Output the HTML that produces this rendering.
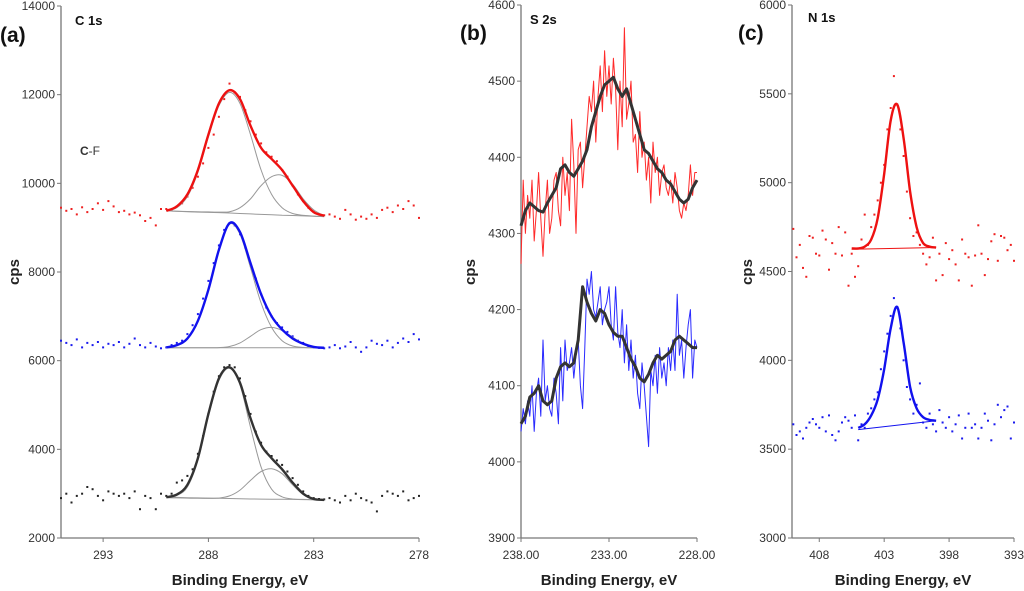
<!DOCTYPE html>
<html><head><meta charset="utf-8"><style>
html,body{margin:0;padding:0;background:#fff;}
svg{display:block;font-family:"Liberation Sans",Arial,sans-serif;}
.tk{font-size:12px;fill:#333;}
.ti{font-size:15px;font-weight:bold;fill:#222;}
.pl{font-size:21px;font-weight:bold;fill:#111;}
.nm{font-size:13px;font-weight:bold;fill:#111;}
</style></head><body>
<svg id="fig" width="1024" height="591" viewBox="0 0 1024 591"></svg>
<script>
// ---------- Panel (a) C 1s data ----------
const aScatterStart = 295, aScatterStep = 0.25;
const aRedPts = [9450,9380,9420,9300,9460,9350,9420,9550,9400,9600,9480,9350,9380,9300,9340,9280,9150,9220,9050,9420,
9420,9400,9480,9550,9700,9900,10150,10450,10800,11100,11500,11900,12250,12050,11950,11650,11400,11100,10900,10700,10600,10500,10300,10150,9950,9750,9600,9450,9350,9300,9280,
9300,9250,9200,9400,9300,9180,9250,9200,9300,9220,9400,9450,9350,9500,9420,9600,9500,9220];
const aBluePts = [6450,6400,6350,6480,6300,6400,6350,6420,6300,6380,6350,6420,6300,6380,6500,6350,6300,6400,6320,6280,
6300,6350,6400,6450,6600,6800,7050,7400,7800,8200,8600,8950,9100,9050,8850,8550,8200,7850,7500,7200,7000,6850,6750,6650,6550,6450,6400,6330,6300,6290,6280,
6300,6350,6280,6320,6420,6300,6200,6300,6450,6380,6350,6450,6300,6400,6500,6420,6600,6480];
const aBlackPts = [2900,3000,2800,2950,3000,3150,3100,2950,2850,3050,3000,2950,3000,2900,3050,2650,2950,2900,2650,3000,
2950,3000,3250,3300,3400,3550,3900,4300,4800,5300,5650,5850,5900,5850,5600,5200,4800,4400,4150,3950,3850,3750,3650,3500,3350,3200,3050,2950,2900,2880,2870,
2900,2850,2800,2950,2850,3000,2900,2850,2800,2600,2950,3050,3000,2950,3050,2850,2900,2950];
const aFitE = [290,289.5,289,288.5,288,287.5,287,286.5,286,285.5,285,284.5,284,283.5,283,282.5];
const aRedTotal = [9380,9480,9750,10300,11100,11800,12100,11900,11300,10800,10550,10300,9950,9600,9350,9270];
const aRedC1 = [9380,9450,9700,10250,11050,11750,12050,11800,11100,10300,9750,9450,9320,9280,9260,9250];
const aRedC2 = [9380,9370,9365,9360,9355,9350,9360,9450,9650,9950,10150,10180,9980,9650,9400,9270];
const aRedBase = [9380,9370,9360,9350,9345,9340,9330,9320,9310,9300,9290,9280,9275,9265,9258,9250];
const aBlueTotal = [6300,6350,6500,6900,7600,8500,9100,8900,8200,7500,7000,6700,6500,6380,6310,6290];
const aBlueC1 = [6300,6340,6480,6880,7580,8480,9080,8850,8100,7300,6750,6450,6330,6300,6290,6285];
const aBlueC2 = [6290,6290,6290,6290,6290,6295,6320,6400,6550,6700,6750,6680,6530,6380,6300,6285];
const aBlueBase = [6290,6290,6290,6290,6290,6290,6290,6290,6290,6290,6290,6290,6290,6290,6290,6290];
const aBlackTotal = [2920,2980,3200,3800,4800,5600,5850,5500,4700,4100,3800,3550,3250,3000,2880,2860];
const aBlackC1 = [2920,2960,3150,3750,4750,5550,5830,5450,4500,3600,3100,2930,2880,2870,2865,2860];
const aBlackC2 = [2910,2905,2900,2895,2895,2900,2950,3080,3300,3500,3560,3450,3200,2980,2880,2860];
const aBlackBase = [2920,2915,2910,2905,2900,2895,2890,2885,2880,2878,2875,2872,2870,2866,2863,2860];
const aXTicks = [293,288,283,278];
const aYTicks = [2000,4000,6000,8000,10000,12000,14000];

// ---------- Panel (b) S 2s data ----------
const bRawStart = 238, bRawStep = 0.125, bSmStep = 0.25;
const bRedRaw = [4260,4370,4300,4350,4320,4370,4290,4330,4380,4320,4270,4330,4370,4300,4320,4370,4380,4330,4310,4400,
4350,4380,4330,4450,4390,4300,4410,4420,4360,4400,4440,4480,4460,4500,4420,4480,4520,4460,4540,4480,
4520,4470,4530,4490,4410,4500,4440,4570,4450,4470,4500,4420,4430,4380,4460,4400,4420,4370,4400,4340,
4420,4380,4400,4350,4380,4390,4360,4350,4370,4340,4380,4360,4330,4320,4340,4330,4350,4390,4350,4380,4380];
const bRedSmooth = [4310,4330,4340,4335,4330,4328,4340,4350,4360,4385,4390,4380,4375,4385,4395,4410,4440,4460,4480,4495,4500,4505,4490,4480,4490,4470,4450,4430,4410,4405,4395,4385,4380,4370,4365,4355,4345,4340,4345,4360,4370];
const bBlueRaw = [4040,4070,4050,4080,4060,4100,4040,4090,4110,4060,4160,4080,4100,4070,4060,4110,4090,4050,4150,4080,
4160,4120,4130,4150,4110,4140,4160,4100,4070,4150,4240,4220,4250,4200,4190,4210,4230,4180,4200,4210,
4230,4180,4160,4230,4170,4150,4200,4130,4180,4120,4160,4110,4140,4090,4070,4130,4100,4060,4020,4120,
4100,4140,4090,4150,4110,4130,4100,4150,4120,4160,4120,4220,4140,4160,4110,4150,4180,4200,4110,4160,4150];
const bBlueSmooth = [4050,4060,4085,4090,4100,4080,4075,4080,4110,4125,4130,4125,4130,4160,4230,4210,4195,4185,4200,4195,4180,4170,4165,4165,4150,4135,4125,4110,4105,4115,4130,4140,4135,4140,4145,4160,4165,4160,4155,4150,4150];
const bXTicks = [238,233,228];
const bYTicks = [3900,4000,4100,4200,4300,4400,4500,4600];

// ---------- Panel (c) N 1s data ----------
const cScatterStart = 410, cScatterStep = 0.25;
const cRedPts = [4740,4580,4650,4520,4470,4700,4690,4600,4590,4730,4680,4510,4660,4600,4750,4590,
4720,4420,4600,4470,4530,4680,4820,4650,
4750,4820,4900,5000,5100,5300,5420,5600,5440,5300,5150,4950,4800,4700,4720,4650,4600,
4540,4580,4690,4450,4600,4480,4660,4570,4620,4540,4450,4680,4600,4580,4420,4590,4760,4600,4480,4570,4670,4710,4560,4700,4690,4620,4650,4560];
const cBluePts = [3640,3580,3600,3560,3620,3650,3670,3640,3620,3680,3600,3690,3580,3550,3600,3650,
3680,3660,3620,3690,3550,3640,3620,3700,
3730,3780,3820,3950,4050,4150,4250,4350,4300,4180,4000,3850,3780,3700,3750,3870,3650,
3620,3700,3640,3600,3720,3650,3620,3680,3600,3640,3690,3560,3620,3700,3620,3640,3560,3620,3700,3660,3550,3640,3750,3680,3720,3740,3560,3650];
const cRedFitE = [405.5,405,404.5,404,403.5,403,402.5,402,401.5,401,400.5,400,399.5,399];
const cRedFit = [4630,4630,4640,4680,4800,5050,5350,5440,5250,4950,4750,4660,4640,4635];
const cRedBaseE = [405.5,399];
const cRedBase = [4625,4635];
const cBlueFitE = [405,404.5,404,403.5,403,402.5,402,401.5,401,400.5,400,399.5,399];
const cBlueFit = [3620,3640,3690,3780,3950,4180,4300,4100,3850,3730,3680,3665,3660];
const cBlueBaseE = [405,399];
const cBlueBase = [3610,3660];
const cXTicks = [408,403,398,393];
const cYTicks = [3000,3500,4000,4500,5000,5500,6000];

// ---------- drawing ----------
const NS = "http://www.w3.org/2000/svg";
const svg = document.getElementById('fig');
function mk(tag, attrs, parent){
  const e = document.createElementNS(NS, tag);
  for (const k in attrs) e.setAttribute(k, attrs[k]);
  (parent||svg).appendChild(e);
  return e;
}
function scale(d0,d1,r0,r1){ return v => r0 + (v-d0)*(r1-r0)/(d1-d0); }
function smoothPath(pts){
  if (pts.length<2) return '';
  let d = 'M'+pts[0][0].toFixed(1)+','+pts[0][1].toFixed(1);
  for (let i=0;i<pts.length-1;i++){
    const p0=pts[Math.max(0,i-1)], p1=pts[i], p2=pts[i+1], p3=pts[Math.min(pts.length-1,i+2)];
    const c1x=p1[0]+(p2[0]-p0[0])/6, c1y=p1[1]+(p2[1]-p0[1])/6;
    const c2x=p2[0]-(p3[0]-p1[0])/6, c2y=p2[1]-(p3[1]-p1[1])/6;
    d+=' C'+c1x.toFixed(1)+','+c1y.toFixed(1)+' '+c2x.toFixed(1)+','+c2y.toFixed(1)+' '+p2[0].toFixed(1)+','+p2[1].toFixed(1);
  }
  return d;
}
function axes(g, x, y, x0, x1, y0, y1, xt, yt, fmt, name){
  const ax = mk('g', {}, g);
  
  
  const yl = mk('line', {x1:x(x0), y1:y(y0), x2:x(x0), y2:y(y1), stroke:'#777', 'stroke-width':1.3}, ax);
  
  
  const xl = mk('line', {x1:x(x0), y1:y(y0), x2:x(x1), y2:y(y0), stroke:'#777', 'stroke-width':1.3}, ax);
  
  
  xt.forEach(v=>{
    mk('line', {x1:x(v), y1:y(y0), x2:x(v), y2:y(y0)+4, stroke:'#777'}, ax);
    const t = mk('text', {x:x(v), y:y(y0)+21, 'text-anchor':'middle', class:'tk'}, ax);
    t.textContent = fmt(v);
    
    
  });
  yt.forEach(v=>{
    mk('line', {x1:x(x0)-4, y1:y(v), x2:x(x0), y2:y(v), stroke:'#777'}, ax);
    const t = mk('text', {x:x(x0)-6, y:y(v)+4, 'text-anchor':'end', class:'tk'}, ax);
    t.textContent = v;
    
    
  });
}
function scatter(g, x, y, start, step, vals, color, name){
  const s = mk('g', {fill:color}, g);
  
  
  vals.forEach((v,i)=>{
    const e = start - i*step;
    const r = mk('rect', {x:(x(e)-1).toFixed(1), y:(y(v)-1).toFixed(1), width:2, height:2}, s);
    
    
  });
}
function curve(g, x, y, es, vals, color, w, name, smooth){
  const pts = vals.map((v,i)=>[x(es[i]), y(v)]);
  const d = smooth ? smoothPath(pts) : 'M'+pts.map(p=>p[0].toFixed(1)+','+p[1].toFixed(1)).join(' L');
  const p = mk('path', {d:d, fill:'none', stroke:color, 'stroke-width':w, 'stroke-linejoin':'round'}, g);
  
  
}
function seq(start, step, n){ const r=[]; for(let i=0;i<n;i++) r.push(start-i*step); return r; }
function label(txt, x, y, cls, name, rot){
  const t = mk('text', {x:x, y:y, class:cls, 'text-anchor': rot||cls==='ti'?'middle':'start'});
  if (rot) t.setAttribute('transform', 'rotate(-90 '+x+' '+y+')');
  t.textContent = txt;
  
  
  return t;
}

// Panel a
(function(){
  const g = mk('g', {});
  
  
  const x = scale(295, 278, 61, 419), y = scale(2000, 14000, 538, 6);
  axes(g, x, y, 295, 278, 2000, 14000, aXTicks, aYTicks, v=>String(v), 'panel-a');
  [[aRedPts,'#ee2020','red'],[aBluePts,'#1a1aee','blue'],[aBlackPts,'#222','black']].forEach(s=>scatter(g,x,y,aScatterStart,aScatterStep,s[0],s[1],'c1s-'+s[2]+'-points'));
  [[aRedC1,aRedC2,aRedBase,aRedTotal,'#ee1111','red'],[aBlueC1,aBlueC2,aBlueBase,aBlueTotal,'#1111ee','blue'],[aBlackC1,aBlackC2,aBlackBase,aBlackTotal,'#333','black']].forEach(s=>{
    curve(g,x,y,aFitE,s[0],'#999',1,'c1s-'+s[5]+'-component-1',true);
    curve(g,x,y,aFitE,s[1],'#999',1,'c1s-'+s[5]+'-component-2',true);
    curve(g,x,y,aFitE,s[2],'#999',1,'c1s-'+s[5]+'-baseline',false);
    curve(g,x,y,aFitE,s[3],s[4],2.4,'c1s-'+s[5]+'-envelope',true);
  });
  label('(a)', 0, 42, 'pl', 'panel-a-label');
  label('C 1s', 75, 25, 'nm', 'panel-a-title');
  const cf = label('', 80, 155, 'tk', 'c-f-annotation');
  cf.innerHTML = '<tspan font-weight="bold">C</tspan>-F';
  label('cps', 19, 272, 'ti', 'panel-a-y-title', true);
  label('Binding Energy, eV', 240, 585, 'ti', 'panel-a-x-title');
})();

// Panel b
(function(){
  const g = mk('g', {});
  
  
  const x = scale(238, 228, 521, 697), y = scale(3900, 4600, 538, 5);
  axes(g, x, y, 238, 228, 3900, 4600, bXTicks, bYTicks, v=>v.toFixed(2), 'panel-b');
  curve(g,x,y,seq(bRawStart,bRawStep,bRedRaw.length),bRedRaw,'#ff2a2a',1,'s2s-red-raw',false);
  curve(g,x,y,seq(bRawStart,bRawStep,bBlueRaw.length),bBlueRaw,'#2a2aff',1,'s2s-blue-raw',false);
  curve(g,x,y,seq(bRawStart,bSmStep,bRedSmooth.length),bRedSmooth,'#333',3,'s2s-red-smoothed',false);
  curve(g,x,y,seq(bRawStart,bSmStep,bBlueSmooth.length),bBlueSmooth,'#333',3,'s2s-blue-smoothed',false);
  label('(b)', 460, 40, 'pl', 'panel-b-label');
  label('S 2s', 530, 24, 'nm', 'panel-b-title');
  label('cps', 475, 272, 'ti', 'panel-b-y-title', true);
  label('Binding Energy, eV', 609, 585, 'ti', 'panel-b-x-title');
})();

// Panel c
(function(){
  const g = mk('g', {});
  
  
  const x = scale(410.1, 393, 792, 1014), y = scale(3000, 6000, 538, 5);
  axes(g, x, y, 410.1, 393, 3000, 6000, cXTicks, cYTicks, v=>String(v), 'panel-c');
  scatter(g,x,y,cScatterStart,cScatterStep,cRedPts,'#ee2020','n1s-red-points');
  scatter(g,x,y,cScatterStart,cScatterStep,cBluePts,'#1a1aee','n1s-blue-points');
  curve(g,x,y,cRedBaseE,cRedBase,'#ee1111',1,'n1s-red-baseline',false);
  curve(g,x,y,cBlueBaseE,cBlueBase,'#1111ee',1,'n1s-blue-baseline',false);
  curve(g,x,y,cRedFitE,cRedFit,'#ee1111',2.4,'n1s-red-fit',true);
  curve(g,x,y,cBlueFitE,cBlueFit,'#1111ee',2.4,'n1s-blue-fit',true);
  label('(c)', 738, 40, 'pl', 'panel-c-label');
  label('N 1s', 808, 22, 'nm', 'panel-c-title');
  label('cps', 752, 272, 'ti', 'panel-c-y-title', true);
  label('Binding Energy, eV', 903, 585, 'ti', 'panel-c-x-title');
})();
</script>
</body></html>
